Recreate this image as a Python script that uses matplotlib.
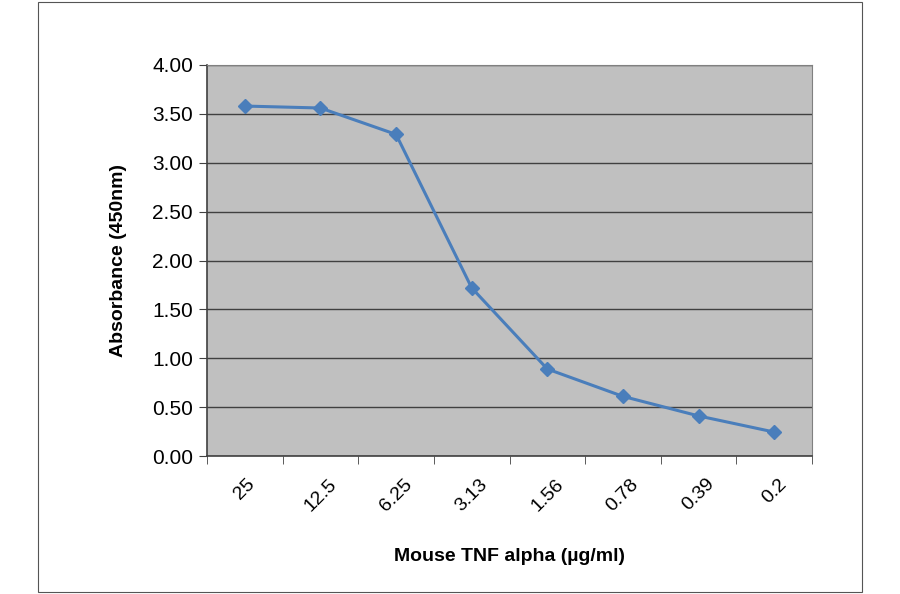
import matplotlib
matplotlib.use("Agg")
import matplotlib.pyplot as plt
from matplotlib.patches import Rectangle
import numpy as np

# concentrations (category labels) and measured absorbance
concentrations = ["25", "12.5", "6.25", "3.13", "1.56", "0.78", "0.39", "0.2"]
absorbance = [3.58, 3.56, 3.29, 1.72, 0.89, 0.61, 0.41, 0.245]
y_ticks = [0.0, 0.5, 1.0, 1.5, 2.0, 2.5, 3.0, 3.5, 4.0]

plt.rcParams["font.family"] = ["Liberation Sans", "DejaVu Sans"]

fig = plt.figure(figsize=(9, 5.94), dpi=100)
ax = fig.add_axes([207 / 900, 1 - 456 / 594, 605 / 900, 391 / 594])

# outer chart border
fig.patches.append(Rectangle((38 / 900, 2 / 594), 824 / 900, 590 / 594,
                             transform=fig.transFigure, fill=False,
                             edgecolor="#555555", linewidth=0.8))

ax.set_facecolor("#c0c0c0")
x = np.arange(len(concentrations))
ax.plot(x, absorbance, color="#4a7ebb", linewidth=2.2, marker="D",
        markersize=7, markerfacecolor="#4a7ebb", markeredgecolor="#4a7ebb",
        zorder=3)

ax.set_xlim(-0.5, len(concentrations) - 0.5)
ax.set_ylim(0, 4)
ax.set_yticks(y_ticks)
ax.set_yticklabels(["%.2f" % v for v in y_ticks], fontsize=15)
ax.yaxis.grid(True, color="#404040", linewidth=1.0)
ax.set_axisbelow(True)

ax.set_xticks(x)
ax.set_xticklabels(concentrations, rotation=45, fontsize=14,
                   ha="center", va="top")
ax.set_xticks(np.arange(len(concentrations) + 1) - 0.5, minor=True)
ax.tick_params(axis="x", which="major", length=0, pad=14)
ax.tick_params(axis="x", which="minor", length=6, color="#404040",
               direction="out")
ax.tick_params(axis="y", length=6, color="#404040", pad=4)

for side in ["left", "bottom"]:
    ax.spines[side].set_color("#404040")
    ax.spines[side].set_linewidth(1.2)
for side in ["top", "right"]:
    ax.spines[side].set_color("#808080")
    ax.spines[side].set_linewidth(0.8)

ax.set_ylabel("Absorbance (450nm)", fontsize=14, fontweight="bold", labelpad=18)
ax.set_xlabel("Mouse TNF alpha (\u00b5g/ml)", fontsize=14, fontweight="bold",
              labelpad=24)

fig.savefig("out.png", dpi=100)
